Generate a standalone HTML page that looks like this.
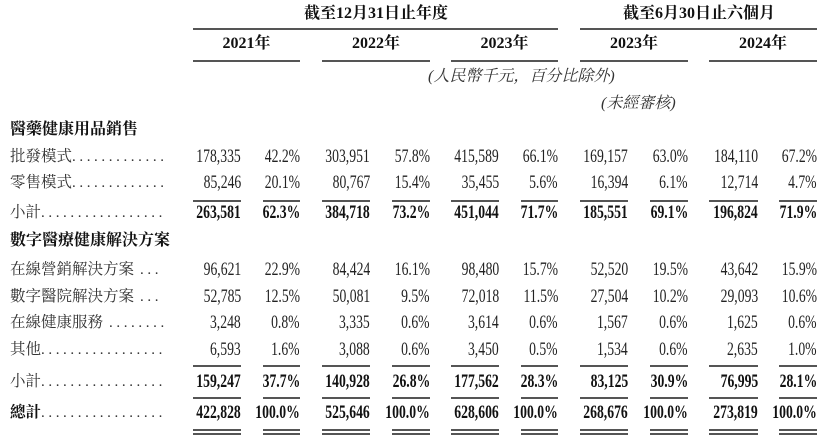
<!DOCTYPE html>
<html><head><meta charset="utf-8">
<style>
body{margin:0;width:831px;height:439px;background:#fff;overflow:hidden;position:relative;font-family:"Liberation Serif","Noto Serif CJK SC",serif;color:#222}
.t{position:absolute;white-space:nowrap;line-height:1}
.n{position:absolute;white-space:nowrap;font-size:19px;line-height:1;transform:scaleX(.72);transform-origin:right center;text-align:right;color:#222}
.b{font-weight:bold;color:#111}
.lb{position:absolute;left:10px;font-size:15.5px;font-family:"Liberation Serif","Noto Serif CJK SC",serif;white-space:nowrap;line-height:1;color:#333}
.dots{position:absolute;white-space:nowrap;font-size:15px;line-height:1;letter-spacing:3.6px;color:#333;font-family:"Liberation Serif",serif}
.ln{position:absolute;height:2px;background:#555}
.hd{position:absolute;font-weight:bold;font-size:16px;font-family:"Liberation Serif","Noto Serif CJK SC",serif;white-space:nowrap;transform:translateX(-50%);line-height:1;color:#111}
</style></head><body>
<div id="tbl"></div>
<script>
const rowLabels=["批發模式","零售模式","小計","在線營銷解決方案","數字醫院解決方案","在線健康服務","其他","小計","總計"];
const amounts=[
["178,335","303,951","415,589","169,157","184,110"],
["85,246","80,767","35,455","16,394","12,714"],
["263,581","384,718","451,044","185,551","196,824"],
["96,621","84,424","98,480","52,520","43,642"],
["52,785","50,081","72,018","27,504","29,093"],
["3,248","3,335","3,614","1,567","1,625"],
["6,593","3,088","3,450","1,534","2,635"],
["159,247","140,928","177,562","83,125","76,995"],
["422,828","525,646","628,606","268,676","273,819"]];
const pcts=[
["42.2%","57.8%","66.1%","63.0%","67.2%"],
["20.1%","15.4%","5.6%","6.1%","4.7%"],
["62.3%","73.2%","71.7%","69.1%","71.9%"],
["22.9%","16.1%","15.7%","19.5%","15.9%"],
["12.5%","9.5%","11.5%","10.2%","10.6%"],
["0.8%","0.6%","0.6%","0.6%","0.6%"],
["1.6%","0.6%","0.5%","0.6%","1.0%"],
["37.7%","26.8%","28.3%","30.9%","28.1%"],
["100.0%","100.0%","100.0%","100.0%","100.0%"]];
const years=["2021年","2022年","2023年","2023年","2024年"];
const rowY=[158,184,214,271,298,324,351,383,414];
const bold=[false,false,true,false,false,false,false,true,true];
const amtL=[193,322,451,580,709],amtR=[241,370,499,628,758],pctL=[263,392,521,650,779],pctR=[300,430,558,688,817];
const T=document.getElementById('tbl');
function add(cls,txt,css){const d=document.createElement('div');d.className=cls;if(txt!==null)d.textContent=txt;Object.assign(d.style,css);T.appendChild(d);return d;}
let e;
e=add('hd','截至12月31日止年度',{left:'376px',top:'6px'});


e=add('hd','截至6月30日止六個月',{left:'699px',top:'6px'});


e=add('ln',null,{left:'193px',width:'365px',top:'28px'});


e=add('ln',null,{left:'580px',width:'237px',top:'28px'});


for(let i=0;i<5;i++){
 e=add('hd',years[i],{left:((amtL[i]+pctR[i])/2)+'px',top:'36px'});
 
 
 e=add('ln',null,{left:amtL[i]+'px',width:(pctR[i]-amtL[i])+'px',top:'60px'});
 
 
}
e=add('t','(人民幣千元，百分比除外)',{left:'428px',top:'69px',fontSize:'16px',fontStyle:'italic',color:'#333',fontFamily:'"Liberation Serif","Noto Serif CJK SC",serif'});


e=add('t','(未經審核)',{left:'601px',top:'96px',fontSize:'16px',fontStyle:'italic',color:'#333',fontFamily:'"Liberation Serif","Noto Serif CJK SC",serif'});


e=add('lb','醫藥健康用品銷售',{top:'122px',fontWeight:'bold',color:'#111',fontSize:'16px'});


e=add('lb','數字醫療健康解決方案',{top:'233px',fontWeight:'bold',color:'#111',fontSize:'16px'});


for(let r=0;r<rowLabels.length;r++){
 const y=rowY[r]-9;
 const lbl=rowLabels[r];
 const start=10+lbl.length*15.5+(lbl.length>=6?6:0);
 const n=Math.max(3,Math.floor((168-start)/7.3));
 e=add('lb',lbl,{top:y+'px',fontWeight:r===8?'bold':'normal',color:r===8?'#111':'#333'});
 
 
 e=add('dots','.'.repeat(n),{left:start+'px',top:(y+1)+'px'});
 
 
 for(let c=0;c<5;c++){
  e=add('n'+(bold[r]?' b':''),amounts[r][c],{right:(831-amtR[c])+'px',top:(y-2)+'px'});
  
  
  e=add('n'+(bold[r]?' b':''),pcts[r][c],{right:(831-pctR[c])+'px',top:(y-2)+'px'});
  
  
 }
}
const rules=[[200],[365],[397],[429,433]];
rules.forEach(ys=>ys.forEach(y=>{
 for(let c=0;c<5;c++){
  e=add('ln',null,{left:amtL[c]+'px',width:(amtR[c]-amtL[c])+'px',top:y+'px'});
  
  
  e=add('ln',null,{left:pctL[c]+'px',width:(pctR[c]-pctL[c])+'px',top:y+'px'});
  
  
 }
}));
</script>
</body></html>
